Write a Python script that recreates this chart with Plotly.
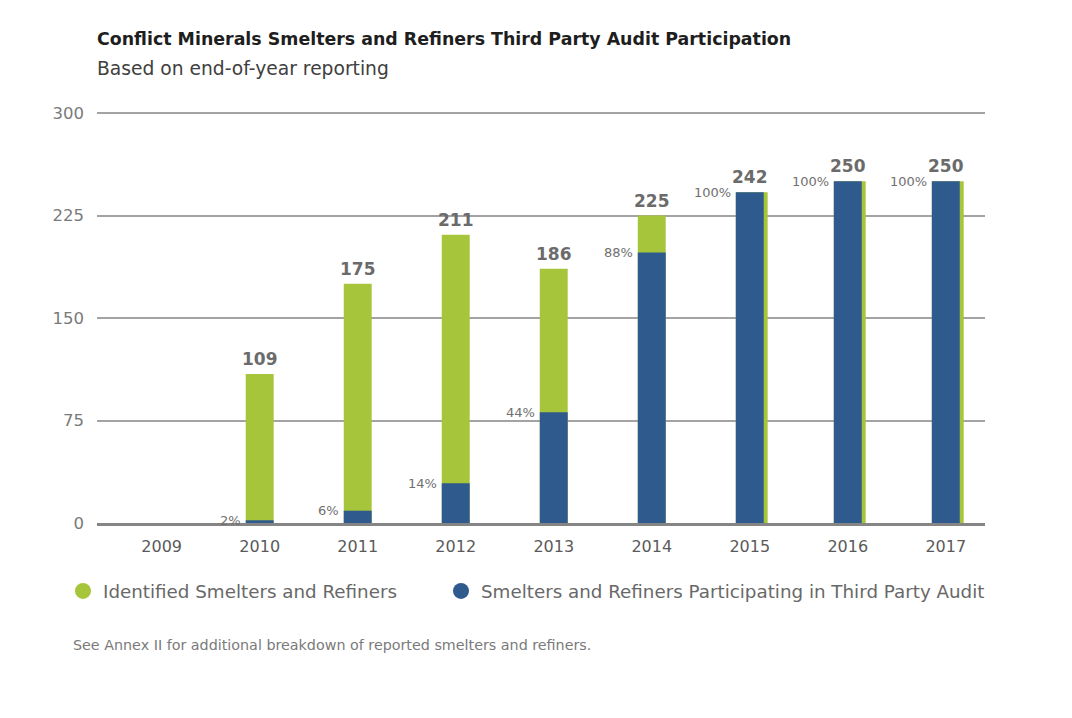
import plotly.graph_objects as go

years = ["2009", "2010", "2011", "2012", "2013", "2014", "2015", "2016", "2017"]
identified = [None, 109, 175, 211, 186, 225, 242, 250, 250]
participating = [None, 2, 9, 29, 81, 198, 242, 250, 250]
total_labels = ["", "109", "175", "211", "186", "225", "242", "250", "250"]
pct_labels = ["", "2%", "6%", "14%", "44%", "88%", "100%", "100%", "100%"]

GREEN = "#A7C53A"
BLUE = "#2F5A8E"
FONT = "DejaVu Sans"

# page body has an 8px margin -> figure drawn 8px right/down of window origin
W, H = 1056, 702
L, R, T, B = 89, 79, 102, 187
PW, PH = W - L - R, H - T - B
YMAX = 300 * PH / 410.0  # keeps 300 gridline just inside the plot top so it is drawn

BW = 0.285
# where participation equals the identified total, the green bar peeks out on the right
green_w = [BW + 0.04 if (a is not None and a == b) else BW for a, b in zip(identified, participating)]

fig = go.Figure()
fig.add_trace(go.Bar(x=years, y=identified, marker=dict(color=GREEN, line=dict(width=0)),
                     width=green_w, offset=-BW / 2, showlegend=False, hoverinfo="y"))
fig.add_trace(go.Bar(x=years, y=participating, marker=dict(color=BLUE, line=dict(width=0)),
                     width=BW, offset=-BW / 2, showlegend=False, hoverinfo="y"))
fig.add_trace(go.Scatter(x=[None], y=[None], mode="markers", name="Identified Smelters and Refiners",
                         marker=dict(color=GREEN, size=19, symbol="circle"), legend="legend"))
fig.add_trace(go.Scatter(x=[None], y=[None], mode="markers",
                         name="Smelters and Refiners Participating in Third Party Audit",
                         marker=dict(color=BLUE, size=19, symbol="circle"), legend="legend2"))

annotations = []
for i, (val, lab) in enumerate(zip(identified, total_labels)):
    if val is None:
        continue
    annotations.append(dict(x=i, y=val, text=f"<b>{lab}</b>", showarrow=False, xref="x", yref="y",
                            xanchor="center", yanchor="bottom", yshift=3,
                            font=dict(family=FONT, size=17, color="#6b6b6b")))
for i, (val, lab) in enumerate(zip(participating, pct_labels)):
    if val is None:
        continue
    annotations.append(dict(x=i, y=val, text=lab, showarrow=False, xref="x", yref="y",
                            xanchor="right", yanchor="middle", xshift=-(BW / 2 * 98 + 3), yshift=0,
                            font=dict(family=FONT, size=13, color="#707070")))

# subtitle
annotations.append(dict(x=(97 - 8 - 2 - L) / PW, y=(T + PH - (68 - 8)) / PH, xref="paper", yref="paper",
                        xanchor="left", yanchor="middle", showarrow=False,
                        text="Based on end-of-year reporting",
                        font=dict(family=FONT, size=18.7, color="#404040")))
# footnote
annotations.append(dict(x=(73 - 8 - 2 - L) / PW, y=(T + PH - (645 - 8)) / PH, xref="paper", yref="paper",
                        xanchor="left", yanchor="middle", showarrow=False,
                        text="See Annex II for additional breakdown of reported smelters and refiners.",
                        font=dict(family=FONT, size=14.3, color="#7a7a7a")))

leg_y = (T + PH - (591 - 8)) / PH

fig.update_layout(
    width=W, height=H,
    paper_bgcolor="white", plot_bgcolor="white",
    margin=dict(l=L, r=R, t=T, b=B),
    barmode="overlay",
    font=dict(family=FONT, color="#555"),
    title=dict(
        text="<b>Conflict Minerals Smelters and Refiners Third Party Audit Participation</b>",
        x=L / W, xanchor="left", y=1 - (39 - 8) / H, yanchor="middle",
        font=dict(family=FONT, size=17.4, color="#1e1e1e")),
    xaxis=dict(type="category", showgrid=False, showline=True, linecolor="#858585", linewidth=2.5,
               ticks="", tickfont=dict(family=FONT, size=16, color="#5a5a5a"), ticklabelstandoff=7,
               range=[-0.66, 8.4], fixedrange=True),
    yaxis=dict(range=[0, YMAX], tickvals=[0, 75, 150, 225, 300], showgrid=True, gridcolor="#a3a3a3",
               gridwidth=2, zeroline=False,
               tickfont=dict(family=FONT, size=16.5, color="#7a7a7a"), ticklabelstandoff=12,
               fixedrange=True),
    legend=dict(orientation="h", x=(83 - 20 - 8 - L) / PW, xanchor="left", y=leg_y, yanchor="middle",
                font=dict(family=FONT, size=18.3, color="#686868"),
                bgcolor="rgba(0,0,0,0)"),
    legend2=dict(orientation="h", x=(461 - 20 - 8 - L) / PW, xanchor="left", y=leg_y, yanchor="middle",
                 font=dict(family=FONT, size=18.3, color="#686868"),
                 bgcolor="rgba(0,0,0,0)"),
    annotations=annotations,
)

fig.write_html("out.html")
